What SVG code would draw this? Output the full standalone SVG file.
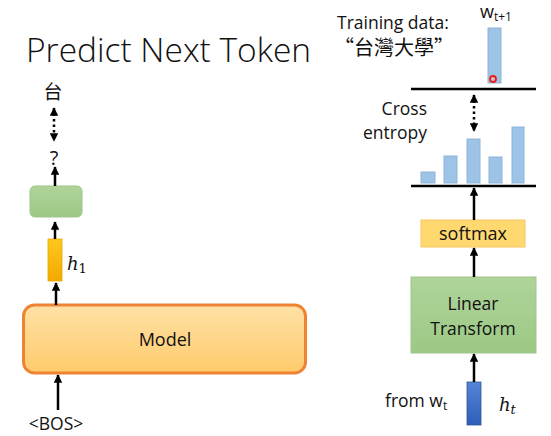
<svg xmlns="http://www.w3.org/2000/svg" width="551" height="436" viewBox="0 0 551 436">
<style>
.t{font-family:"Open Sans","Liberation Sans",sans-serif;fill:#111}
.cjk{font-family:"Noto Sans CJK TC","Noto Sans CJK SC",sans-serif;fill:#111}
.m{font-family:"DejaVu Serif","Liberation Serif",serif;font-style:italic;fill:#111}
.ln{stroke:#000;stroke-width:2.5;fill:none}
.dot{stroke:#000;stroke-width:2.5;fill:none;stroke-dasharray:2.5 3}
.bar{fill:#9DC3E6;stroke:#8FB4DB;stroke-width:1}
</style>
<defs>
<marker id="ah" viewBox="0 0 10 10" refX="9" refY="5" markerWidth="3.4" markerHeight="3.4" orient="auto-start-reverse" markerUnits="strokeWidth">
<path d="M0,0 L10,5 L0,10 Z" fill="#000"/>
</marker>
<linearGradient id="gOr" x1="0" y1="0" x2="0" y2="1">
<stop offset="0" stop-color="#FFE1A6"/><stop offset="1" stop-color="#FFCB6B"/>
</linearGradient>
<linearGradient id="gYe" x1="0" y1="0" x2="0" y2="1">
<stop offset="0" stop-color="#FFC81E"/><stop offset="1" stop-color="#F2A900"/>
</linearGradient>
<linearGradient id="gBl" x1="0" y1="0" x2="0" y2="1">
<stop offset="0" stop-color="#5684D6"/><stop offset="1" stop-color="#2E5EB8"/>
</linearGradient>
<linearGradient id="gGr" x1="0" y1="0" x2="0" y2="1">
<stop offset="0" stop-color="#AFD49A"/><stop offset="1" stop-color="#9CC985"/>
</linearGradient>
</defs>

<text class="t" x="26" y="62" font-size="33.5" font-weight="300">Predict Next Token</text>

<g id="output-token">
<text class="cjk" x="53" y="99" font-size="19" text-anchor="middle">台</text>
</g>
<g id="question">
<text class="t" x="54" y="165" font-size="20" text-anchor="middle">?</text>
</g>
<g id="green-box">
<rect x="30" y="186" width="52" height="31" rx="5" fill="url(#gGr)" stroke="#9FC58C" stroke-width="1"/>
</g>
<g id="h1">
<rect x="48" y="239" width="14" height="42" fill="url(#gYe)" stroke="#E8A800" stroke-width="0.8"/>
<text class="m" x="67" y="270" font-size="18">h<tspan font-style="normal" font-size="13" dy="3">1</tspan></text>
</g>
<g id="model">
<rect x="23.5" y="305" width="282" height="68" rx="11" fill="url(#gOr)" stroke="#EE8433" stroke-width="3"/>
<text class="t" x="165" y="346" font-size="18" text-anchor="middle">Model</text>
</g>
<g id="bos">
<text class="t" x="56" y="430" font-size="17.5" text-anchor="middle">&lt;BOS&gt;</text>
</g>

<g id="training-data">
<text class="t" x="337" y="29" font-size="17.5">Training data:</text>
<text class="cjk" x="334" y="55" font-size="20">“台灣大學”</text>
</g>
<g id="target">
<text class="t" x="480" y="18" font-size="18">w<tspan font-size="12" dy="3">t+1</tspan></text>
<rect x="488" y="28" width="13" height="55" class="bar"/>
<circle cx="493" cy="79" r="3.5" fill="#F7B9B0" fill-opacity="0.6"/>
<circle cx="493" cy="79" r="3" fill="none" stroke="#E8201A" stroke-width="1.8"/>
</g>
<g id="cross-entropy">
<text class="t" x="427" y="115" font-size="17.5" text-anchor="end">Cross</text>
<text class="t" x="427" y="139" font-size="17.5" text-anchor="end">entropy</text>
</g>
<g id="distribution">
<rect x="421" y="172" width="14" height="11" class="bar"/>
<rect x="444" y="156" width="13" height="27" class="bar"/>
<rect x="467" y="139" width="13" height="44" class="bar"/>
<rect x="489" y="157" width="13" height="26" class="bar"/>
<rect x="512" y="127" width="12" height="56" class="bar"/>
</g>
<g id="softmax">
<rect x="421" y="220" width="104" height="27" fill="#FFD96F" stroke="#FBC563" stroke-width="1"/>
<text class="t" x="473" y="240" font-size="18" text-anchor="middle">softmax</text>
</g>
<g id="linear-transform">
<rect x="411" y="277" width="125" height="76" fill="url(#gGr)" stroke="#9FC58C" stroke-width="1"/>
<text class="t" x="473" y="310" font-size="17.5" text-anchor="middle">Linear</text>
<text class="t" x="473" y="335" font-size="17.5" text-anchor="middle">Transform</text>
</g>
<g id="ht">
<text class="t" x="385" y="407" font-size="17.5">from w<tspan font-size="12" dy="3">t</tspan></text>
<rect x="467" y="382" width="14" height="43" fill="url(#gBl)" stroke="#2F5597" stroke-width="0.8"/>
<text class="m" x="499" y="411" font-size="18">h<tspan font-size="13" dy="3">t</tspan></text>
</g>

<g id="connectors">
<line class="dot" x1="54" y1="108" x2="54" y2="141" marker-start="url(#ah)" marker-end="url(#ah)"/>
<line class="ln" x1="55" y1="186" x2="55" y2="167" marker-end="url(#ah)"/>
<line class="ln" x1="55" y1="239" x2="55" y2="222" marker-end="url(#ah)"/>
<line class="ln" x1="56" y1="305" x2="56" y2="283" marker-end="url(#ah)"/>
<line class="ln" x1="58" y1="410" x2="58" y2="375" marker-end="url(#ah)"/>
<line class="ln" x1="474" y1="382" x2="474" y2="354" marker-end="url(#ah)"/>
<line class="ln" x1="474" y1="277" x2="474" y2="248" marker-end="url(#ah)"/>
<line class="ln" x1="474" y1="220" x2="474" y2="188" marker-end="url(#ah)"/>
<line class="dot" x1="474" y1="95" x2="474" y2="131" marker-start="url(#ah)" marker-end="url(#ah)"/>
<line x1="411" y1="186" x2="536" y2="186" stroke="#000" stroke-width="2.5"/>
<line x1="411" y1="89" x2="536" y2="89" stroke="#000" stroke-width="2.5"/>
</g>
</svg>
